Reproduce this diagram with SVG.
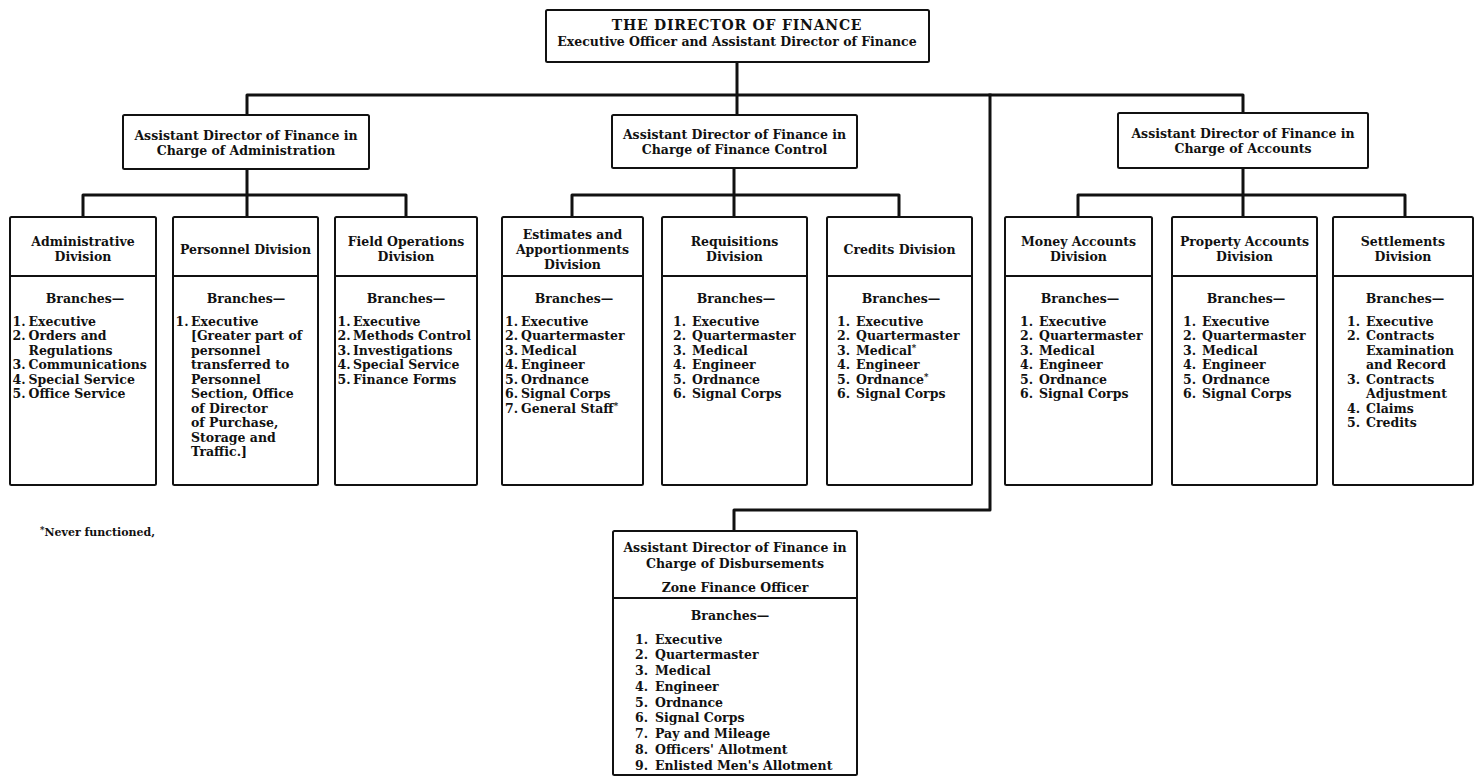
<svg xmlns="http://www.w3.org/2000/svg" width="1475" height="776" viewBox="0 0 1475 776">
  <style>
    .bg { fill: #ffffff; }
    .box { fill: #ffffff; stroke: #111111; stroke-width: 2; }
    .rule { stroke: #111111; stroke-width: 1.8; }
    .conn { fill: none; stroke: #111111; stroke-width: 3; stroke-linejoin: round; stroke-linecap: square; }
    .t { font-family: "DejaVu Serif", "Liberation Serif", serif; font-weight: bold; font-size: 12.5px; fill: #111111; }
    .c { text-anchor: middle; }
    .n { text-anchor: end; }
    .title { font-size: 14px; letter-spacing: 0.8px; }
    .note { font-size: 11px; }
    .sup { font-size: 8.5px; }
  </style>

  <rect class="bg" x="0" y="0" width="1475" height="776"/>

  <!-- Connectors -->
  <g id="connectors">
    <path class="conn" d="M737 62 V115"/>
    <path class="conn" d="M247 115 V95 H1243 V113"/>
    <path class="conn" d="M990 95 V510 H734 V531"/>
    <path class="conn" d="M247 169 V217 M83 217 V195 H406 V217"/>
    <path class="conn" d="M734 168 V217 M572 217 V195 H899 V217"/>
    <path class="conn" d="M1243 168 V217 M1078 217 V195 H1405 V217"/>
  </g>

  <!-- Director -->
  <g id="director">
    <rect class="box" x="546" y="10" width="383" height="52" rx="1.5"/>
    <text class="t c title" x="737" y="30">THE DIRECTOR OF FINANCE</text>
    <text class="t c" x="737" y="46">Executive Officer and Assistant Director of Finance</text>
  </g>

  <!-- Assistant directors -->
  <g id="asst-administration">
    <rect class="box" x="123" y="115" width="246" height="54" rx="1.5"/>
    <text class="t c" x="246" y="139.5">Assistant Director of Finance in</text>
    <text class="t c" x="246" y="154.5">Charge of Administration</text>
  </g>
  <g id="asst-finance-control">
    <rect class="box" x="612" y="115" width="245" height="53" rx="1.5"/>
    <text class="t c" x="734.5" y="139">Assistant Director of Finance in</text>
    <text class="t c" x="734.5" y="154">Charge of Finance Control</text>
  </g>
  <g id="asst-accounts">
    <rect class="box" x="1118" y="113" width="250" height="55" rx="1.5"/>
    <text class="t c" x="1243" y="138">Assistant Director of Finance in</text>
    <text class="t c" x="1243" y="153">Charge of Accounts</text>
  </g>

  <!-- Divisions under Administration -->
  <g id="administrative-division">
    <rect class="box" x="10" y="217" width="146" height="268" rx="1.5"/>
    <line class="rule" x1="10" y1="276" x2="156" y2="276"/>
    <text class="t c" x="83" y="246">Administrative</text>
    <text class="t c" x="83" y="261">Division</text>
    <text class="t c" x="85" y="303">Branches—</text>
    <text class="t n" x="25.5" y="325.5">1.</text><text class="t" x="28.5" y="325.5">Executive</text>
    <text class="t n" x="25.5" y="340">2.</text><text class="t" x="28.5" y="340">Orders and</text>
    <text class="t" x="28.5" y="354.5">Regulations</text>
    <text class="t n" x="25.5" y="369">3.</text><text class="t" x="28.5" y="369">Communications</text>
    <text class="t n" x="25.5" y="383.5">4.</text><text class="t" x="28.5" y="383.5">Special Service</text>
    <text class="t n" x="25.5" y="398">5.</text><text class="t" x="28.5" y="398">Office Service</text>
  </g>

  <g id="personnel-division">
    <rect class="box" x="173" y="217" width="145" height="268" rx="1.5"/>
    <line class="rule" x1="173" y1="276" x2="318" y2="276"/>
    <text class="t c" x="245.5" y="254">Personnel Division</text>
    <text class="t c" x="246" y="303">Branches—</text>
    <text class="t n" x="188.5" y="325.5">1.</text><text class="t" x="191" y="325.5">Executive</text>
    <text class="t" x="191" y="340">[Greater  part of</text>
    <text class="t" x="191" y="354.5">personnel</text>
    <text class="t" x="191" y="369">transferred to</text>
    <text class="t" x="191" y="383.5">Personnel</text>
    <text class="t" x="191" y="398">Section, Office</text>
    <text class="t" x="191" y="412.5">of Director</text>
    <text class="t" x="191" y="427">of Purchase,</text>
    <text class="t" x="191" y="441.5">Storage and</text>
    <text class="t" x="191" y="456">Traffic.]</text>
  </g>

  <g id="field-operations-division">
    <rect class="box" x="335" y="217" width="142" height="268" rx="1.5"/>
    <line class="rule" x1="335" y1="276" x2="477" y2="276"/>
    <text class="t c" x="406" y="246">Field Operations</text>
    <text class="t c" x="406" y="261">Division</text>
    <text class="t c" x="406" y="303">Branches—</text>
    <text class="t n" x="350.5" y="325.5">1.</text><text class="t" x="353" y="325.5">Executive</text>
    <text class="t n" x="350.5" y="340">2.</text><text class="t" x="353" y="340">Methods Control</text>
    <text class="t n" x="350.5" y="354.5">3.</text><text class="t" x="353" y="354.5">Investigations</text>
    <text class="t n" x="350.5" y="369">4.</text><text class="t" x="353" y="369">Special Service</text>
    <text class="t n" x="350.5" y="383.5">5.</text><text class="t" x="353" y="383.5">Finance Forms</text>
  </g>

  <!-- Divisions under Finance Control -->
  <g id="estimates-division">
    <rect class="box" x="502" y="217" width="141" height="268" rx="1.5"/>
    <line class="rule" x1="502" y1="276" x2="643" y2="276"/>
    <text class="t c" x="572.5" y="239">Estimates and</text>
    <text class="t c" x="572.5" y="254">Apportionments</text>
    <text class="t c" x="572.5" y="269">Division</text>
    <text class="t c" x="574" y="303">Branches—</text>
    <text class="t" x="505" y="325.5">1.<tspan x="521">Executive</tspan></text>
    <text class="t" x="505" y="340">2.<tspan x="521">Quartermaster</tspan></text>
    <text class="t" x="505" y="354.5">3.<tspan x="521">Medical</tspan></text>
    <text class="t" x="505" y="369">4.<tspan x="521">Engineer</tspan></text>
    <text class="t" x="505" y="383.5">5.<tspan x="521">Ordnance</tspan></text>
    <text class="t" x="505" y="398">6.<tspan x="521">Signal Corps</tspan></text>
    <text class="t" x="505" y="412.5">7.<tspan x="521">General Staff</tspan><tspan class="sup" dy="-4">*</tspan></text>
  </g>

  <g id="requisitions-division">
    <rect class="box" x="662" y="217" width="145" height="268" rx="1.5"/>
    <line class="rule" x1="662" y1="276" x2="807" y2="276"/>
    <text class="t c" x="734.5" y="246">Requisitions</text>
    <text class="t c" x="734.5" y="261">Division</text>
    <text class="t c" x="736" y="303">Branches—</text>
    <text class="t" x="673" y="325.5">1.<tspan x="692">Executive</tspan></text>
    <text class="t" x="673" y="340">2.<tspan x="692">Quartermaster</tspan></text>
    <text class="t" x="673" y="354.5">3.<tspan x="692">Medical</tspan></text>
    <text class="t" x="673" y="369">4.<tspan x="692">Engineer</tspan></text>
    <text class="t" x="673" y="383.5">5.<tspan x="692">Ordnance</tspan></text>
    <text class="t" x="673" y="398">6.<tspan x="692">Signal Corps</tspan></text>
  </g>

  <g id="credits-division">
    <rect class="box" x="827" y="217" width="145" height="268" rx="1.5"/>
    <line class="rule" x1="827" y1="276" x2="972" y2="276"/>
    <text class="t c" x="899.5" y="254">Credits Division</text>
    <text class="t c" x="901" y="303">Branches—</text>
    <text class="t" x="837" y="325.5">1.<tspan x="856">Executive</tspan></text>
    <text class="t" x="837" y="340">2.<tspan x="856">Quartermaster</tspan></text>
    <text class="t" x="837" y="354.5">3.<tspan x="856">Medical</tspan><tspan class="sup" dy="-4">*</tspan></text>
    <text class="t" x="837" y="369">4.<tspan x="856">Engineer</tspan></text>
    <text class="t" x="837" y="383.5">5.<tspan x="856">Ordnance</tspan><tspan class="sup" dy="-4">*</tspan></text>
    <text class="t" x="837" y="398">6.<tspan x="856">Signal Corps</tspan></text>
  </g>

  <!-- Divisions under Accounts -->
  <g id="money-accounts-division">
    <rect class="box" x="1005" y="217" width="147" height="268" rx="1.5"/>
    <line class="rule" x1="1005" y1="276" x2="1152" y2="276"/>
    <text class="t c" x="1078.5" y="246">Money Accounts</text>
    <text class="t c" x="1078.5" y="261">Division</text>
    <text class="t c" x="1080" y="303">Branches—</text>
    <text class="t" x="1020" y="325.5">1.<tspan x="1039">Executive</tspan></text>
    <text class="t" x="1020" y="340">2.<tspan x="1039">Quartermaster</tspan></text>
    <text class="t" x="1020" y="354.5">3.<tspan x="1039">Medical</tspan></text>
    <text class="t" x="1020" y="369">4.<tspan x="1039">Engineer</tspan></text>
    <text class="t" x="1020" y="383.5">5.<tspan x="1039">Ordnance</tspan></text>
    <text class="t" x="1020" y="398">6.<tspan x="1039">Signal Corps</tspan></text>
  </g>

  <g id="property-accounts-division">
    <rect class="box" x="1172" y="217" width="145" height="268" rx="1.5"/>
    <line class="rule" x1="1172" y1="276" x2="1317" y2="276"/>
    <text class="t c" x="1244.5" y="246">Property Accounts</text>
    <text class="t c" x="1244.5" y="261">Division</text>
    <text class="t c" x="1246" y="303">Branches—</text>
    <text class="t" x="1183" y="325.5">1.<tspan x="1202">Executive</tspan></text>
    <text class="t" x="1183" y="340">2.<tspan x="1202">Quartermaster</tspan></text>
    <text class="t" x="1183" y="354.5">3.<tspan x="1202">Medical</tspan></text>
    <text class="t" x="1183" y="369">4.<tspan x="1202">Engineer</tspan></text>
    <text class="t" x="1183" y="383.5">5.<tspan x="1202">Ordnance</tspan></text>
    <text class="t" x="1183" y="398">6.<tspan x="1202">Signal Corps</tspan></text>
  </g>

  <g id="settlements-division">
    <rect class="box" x="1333" y="217" width="140" height="268" rx="1.5"/>
    <line class="rule" x1="1333" y1="276" x2="1473" y2="276"/>
    <text class="t c" x="1403" y="246">Settlements</text>
    <text class="t c" x="1403" y="261">Division</text>
    <text class="t c" x="1405" y="303">Branches—</text>
    <text class="t" x="1347" y="325.5">1.<tspan x="1366">Executive</tspan></text>
    <text class="t" x="1347" y="340">2.<tspan x="1366">Contracts</tspan></text>
    <text class="t" x="1366" y="354.5">Examination</text>
    <text class="t" x="1366" y="369">and Record</text>
    <text class="t" x="1347" y="383.5">3.<tspan x="1366">Contracts</tspan></text>
    <text class="t" x="1366" y="398">Adjustment</text>
    <text class="t" x="1347" y="412.5">4.<tspan x="1366">Claims</tspan></text>
    <text class="t" x="1347" y="427">5.<tspan x="1366">Credits</tspan></text>
  </g>

  <!-- Disbursements -->
  <g id="asst-disbursements">
    <rect class="box" x="613" y="531" width="244" height="244" rx="1.5"/>
    <line class="rule" x1="613" y1="598" x2="857" y2="598"/>
    <text class="t c" x="735" y="551.5">Assistant Director of Finance in</text>
    <text class="t c" x="735" y="567.5">Charge of Disbursements</text>
    <text class="t c" x="735" y="591.5">Zone Finance Officer</text>
    <text class="t c" x="730" y="619.5">Branches—</text>
    <text class="t" x="635" y="643.5">1.<tspan x="655">Executive</tspan></text>
    <text class="t" x="635" y="659.3">2.<tspan x="655">Quartermaster</tspan></text>
    <text class="t" x="635" y="675">3.<tspan x="655">Medical</tspan></text>
    <text class="t" x="635" y="690.8">4.<tspan x="655">Engineer</tspan></text>
    <text class="t" x="635" y="706.5">5.<tspan x="655">Ordnance</tspan></text>
    <text class="t" x="635" y="722.3">6.<tspan x="655">Signal Corps</tspan></text>
    <text class="t" x="635" y="738">7.<tspan x="655">Pay and Mileage</tspan></text>
    <text class="t" x="635" y="753.8">8.<tspan x="655">Officers' Allotment</tspan></text>
    <text class="t" x="635" y="769.5">9.<tspan x="655">Enlisted Men's Allotment</tspan></text>
  </g>

  <!-- Footnote -->
  <g id="footnote">
    <text class="t note" x="40" y="536"><tspan class="sup" dy="-3">*</tspan><tspan dy="3">Never functioned,</tspan></text>
  </g>
</svg>
